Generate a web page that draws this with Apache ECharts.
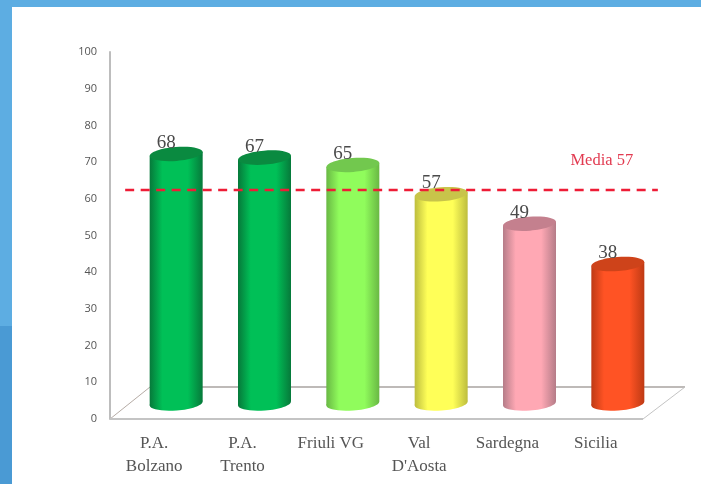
<!DOCTYPE html>
<html>
<head>
<meta charset="utf-8">
<style>
  html, body { margin: 0; padding: 0; background: #fff; }
  /* the reference is a soft, upscaled image */
  #chart { width: 701px; height: 484px; filter: blur(0.45px); }
</style>
<script src="https://cdn.jsdelivr.net/npm/echarts@6/dist/echarts.min.js"></script>
</head>
<body>
<div id="chart"></div>
<script>
// dati
const categories = ['P.A.\nBolzano', 'P.A.\nTrento', 'Friuli VG', 'Val\nD\'Aosta', 'Sardegna', 'Sicilia'];
const values = [68, 67, 65, 57, 49, 38];
const yTicks = [0, 100, 10];
const mediaValue = 57;
// the dashed line sits here on the front scale of the 3D plot
const mediaLineLevel = 62.4;

// [edge, centre, top]
const barColors = [
  ['#06793A', '#00C057', '#0A8A40'],
  ['#06793A', '#00C057', '#0A8A40'],
  ['#69B844', '#90FC5C', '#72C84E'],
  ['#BDBD3E', '#FFFF58', '#C8C44A'],
  ['#B57C88', '#FFA8B4', '#C4808E'],
  ['#BE3A14', '#FF5324', '#CE431A']
];

const serif = '"Liberation Serif", serif';
const sans = '"Open Sans", sans-serif';
const depthX = 22, depthY = -15.5;
const barRx = 26.5, barRy = 7, tilt = 0.08;

function renderFloor(params, api) {
  const c = params.coordSys;
  const b = c.y + c.height;
  const r = c.x + c.width;
  return {
    type: 'group',
    children: [
      { type: 'line', shape: { x1: c.x, y1: b, x2: c.x + 40, y2: b - 32 }, style: { stroke: '#B5ABA5', lineWidth: 1 } },
      { type: 'line', shape: { x1: c.x + 40, y1: b - 32, x2: r + 45, y2: b - 32 }, style: { stroke: '#A8A3A0', lineWidth: 1.5 } },
      { type: 'line', shape: { x1: r + 45, y1: b - 32, x2: r + 3, y2: b }, style: { stroke: '#C4C4C4', lineWidth: 1 } },
      { type: 'line', shape: { x1: c.x, y1: b, x2: r + 3, y2: b }, style: { stroke: '#C4C4C4', lineWidth: 2 } }
    ]
  };
}

function renderBar(params, api) {
  const i = api.value(0);
  const top = api.coord([i, api.value(1)]);
  const base = api.coord([i, 0]);
  const cx = top[0] + depthX;
  const yt = top[1] + depthY;
  const yb = base[1] + depthY;
  const dy = barRx * Math.tan(tilt);
  const col = barColors[i];
  const fill = new echarts.graphic.LinearGradient(0, 0, 1, 0, [
    { offset: 0, color: col[0] },
    { offset: 0.24, color: col[1] },
    { offset: 0.72, color: col[1] },
    { offset: 1, color: col[0] }
  ]);
  return {
    type: 'group',
    children: [
      { type: 'ellipse', x: cx, y: yb, rotation: tilt, shape: { cx: 0, cy: 0, rx: barRx, ry: barRy }, style: { fill: fill } },
      {
        type: 'polygon',
        shape: { points: [[cx - barRx, yt + dy], [cx + barRx, yt - dy], [cx + barRx, yb - dy], [cx - barRx, yb + dy]] },
        style: { fill: fill }
      },
      { type: 'ellipse', x: cx, y: yt, rotation: tilt, shape: { cx: 0, cy: 0, rx: barRx, ry: barRy }, style: { fill: col[2] } },
      {
        type: 'text',
        x: cx - 10, y: yt - 11,
        style: { text: String(api.value(1)), font: '19px ' + serif, fill: '#4A4A4A', align: 'center', verticalAlign: 'middle' }
      }
    ]
  };
}

function renderMedia(params, api) {
  const a = api.coord([0, mediaLineLevel]);
  const b = api.coord([categories.length - 1, mediaLineLevel]);
  return {
    type: 'group',
    children: [
      {
        type: 'line',
        shape: { x1: a[0] - 29, y1: a[1], x2: b[0] + 62, y2: b[1] },
        style: { stroke: '#EE1C36', lineWidth: 2.5, lineDash: [9, 6.5] }
      },
      {
        type: 'text',
        x: b[0] + 6, y: a[1] - 29,
        style: { text: 'Media ' + mediaValue, font: '16.5px ' + serif, fill: '#E23A50', align: 'center', verticalAlign: 'middle' }
      }
    ]
  };
}

const chart = echarts.init(document.getElementById('chart'));
chart.setOption({
  animation: false,
  backgroundColor: '#fff',
  grid: { left: 110, right: 61, top: 52, bottom: 65 },
  graphic: [
    { type: 'rect', left: 0, top: 0, shape: { width: 701, height: 7 }, style: { fill: '#5DADE2' } },
    { type: 'rect', left: 0, top: 0, shape: { width: 12, height: 326 }, style: { fill: '#5DADE2' } },
    { type: 'rect', left: 0, top: 326, shape: { width: 12, height: 158 }, style: { fill: '#4A9AD4' } }
  ],
  xAxis: {
    type: 'category',
    data: categories,
    axisTick: { show: false },
    axisLine: { show: false },
    axisLabel: { color: '#555', fontFamily: serif, fontSize: 17, lineHeight: 23, margin: 13, interval: 0 }
  },
  yAxis: {
    type: 'value',
    min: yTicks[0],
    max: yTicks[1],
    interval: yTicks[2],
    splitLine: { show: false },
    axisTick: { show: false },
    axisLine: { show: true, lineStyle: { color: '#BDBDBD', width: 2 } },
    axisLabel: { color: '#555', fontFamily: sans, fontSize: 11, margin: 13, padding: [4, 0, 0, 0] }
  },
  series: [
    { type: 'custom', silent: true, renderItem: renderFloor, data: [0], z: 1 },
    { type: 'custom', silent: true, renderItem: renderBar, encode: { x: 0, y: 1 }, data: values.map((v, i) => [i, v]), z: 2 },
    { type: 'custom', silent: true, renderItem: renderMedia, data: [mediaValue], z: 3 }
  ]
});
</script>
</body>
</html>
